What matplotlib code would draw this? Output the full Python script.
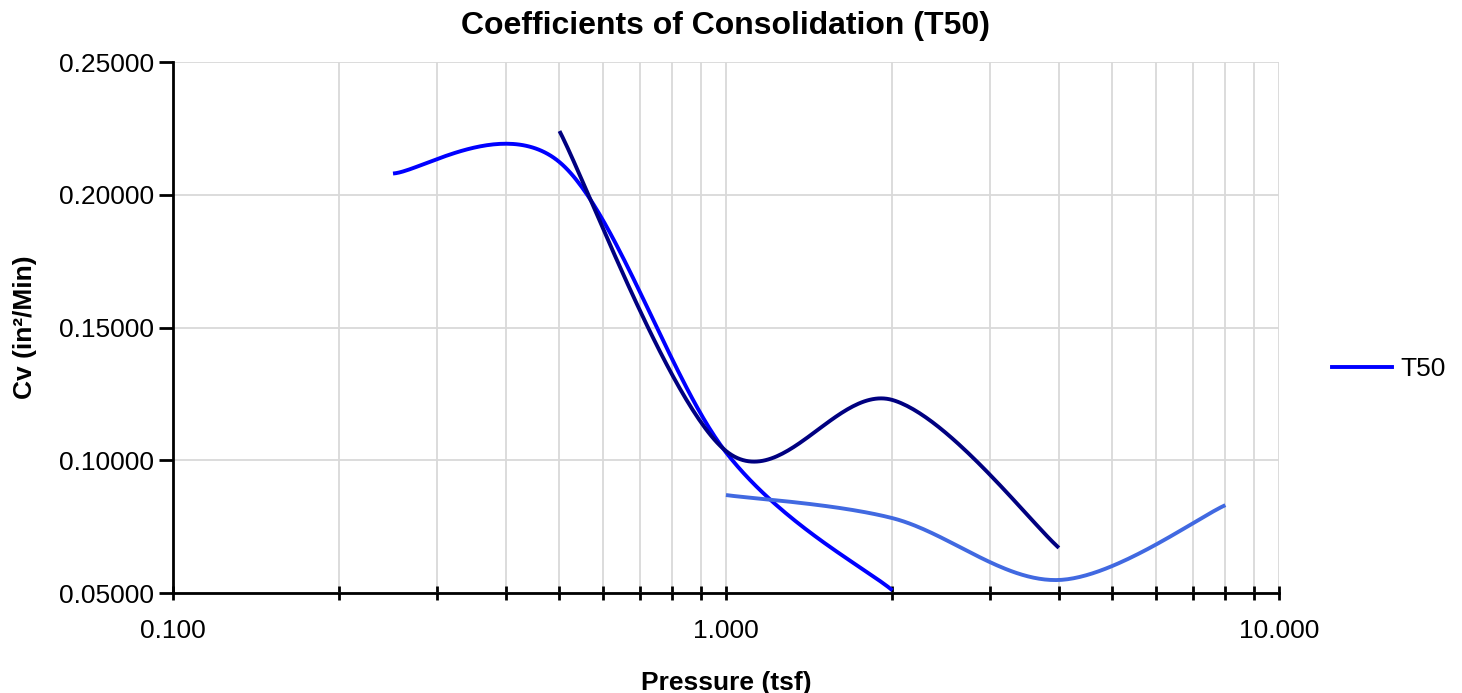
import numpy as np
import matplotlib.pyplot as plt
from matplotlib.ticker import FixedLocator, LogLocator, NullFormatter, FormatStrFormatter
from matplotlib.lines import Line2D

plt.rcParams['font.family'] = ['Liberation Sans', 'DejaVu Sans']

# data (pressure in tsf, Cv in in^2/min)
p_t50 = [0.25, 0.5, 1.0, 2.0]
cv_t50 = [0.208, 0.2123, 0.103, 0.051]

p_second = [0.5, 1.0, 2.0, 4.0]
cv_second = [0.224, 0.1035, 0.1227, 0.067]

p_third = [1.0, 2.0, 4.0, 8.0]
cv_third = [0.0869, 0.0782, 0.0549, 0.0831]

colors = ['#0000FF', '#000080', '#4169E1']


def smooth(xs, ys, sx=553.0, sy=2655.0, n=60):
    # Excel-like smoothed line: bezier segments with catmull-rom handles
    u = np.log10(xs) * sx
    v = np.array(ys) * sy
    pts = np.column_stack([u, v])
    out = []
    for i in range(len(pts) - 1):
        p0 = pts[max(i - 1, 0)]
        p1 = pts[i]
        p2 = pts[i + 1]
        p3 = pts[min(i + 2, len(pts) - 1)]
        c1 = p1 + (p2 - p0) / 6.0
        c2 = p2 - (p3 - p1) / 6.0
        t = np.linspace(0, 1, n)[:, None]
        seg = ((1 - t) ** 3 * p1 + 3 * (1 - t) ** 2 * t * c1
               + 3 * (1 - t) * t ** 2 * c2 + t ** 3 * p2)
        out.append(seg if i == 0 else seg[1:])
    seg = np.vstack(out)
    return 10 ** (seg[:, 0] / sx), seg[:, 1] / sy


fig = plt.figure(figsize=(14.62, 6.93), dpi=100)
ax = fig.add_axes([0.1183, 0.1443, 0.7565, 0.7662])

for xs, ys, c in [(p_t50, cv_t50, colors[0]), (p_second, cv_second, colors[1]),
                  (p_third, cv_third, colors[2])]:
    sx, sy = smooth(xs, ys)
    ax.plot(sx, sy, color=c, lw=2.8, solid_capstyle='butt', zorder=3)

ax.set_xscale('log')
ax.set_xlim(0.1, 10)
ax.set_ylim(0.05, 0.25)
ax.yaxis.set_major_locator(FixedLocator([0.05, 0.10, 0.15, 0.20, 0.25]))
ax.yaxis.set_major_formatter(FormatStrFormatter('%.5f'))
ax.xaxis.set_major_locator(FixedLocator([0.1, 1.0, 10.0]))
ax.xaxis.set_major_formatter(FormatStrFormatter('%.3f'))
ax.xaxis.set_minor_locator(LogLocator(base=10, subs=np.arange(2, 10)))
ax.xaxis.set_minor_formatter(NullFormatter())

ax.grid(True, which='both', axis='x', color='#D9D9D9', lw=1.3, zorder=0)
ax.grid(True, which='major', axis='y', color='#D9D9D9', lw=1.3, zorder=0)
for s in ['top', 'right']:
    ax.spines[s].set_visible(False)
for s in ['left', 'bottom']:
    ax.spines[s].set_linewidth(2)
ax.tick_params(axis='x', which='both', direction='inout', length=10, width=2,
               labelsize=19, pad=14)
ax.tick_params(axis='y', which='major', direction='out', length=10, width=2,
               labelsize=19)

ax.set_title('Coefficients of Consolidation (T50)', fontsize=23, fontweight='bold', pad=20)
ax.set_xlabel('Pressure (tsf)', fontsize=19, fontweight='bold', labelpad=20)
ax.set_ylabel('Cv (in²/Min)', fontsize=19, fontweight='bold', labelpad=16)

handle = Line2D([], [], color=colors[0], lw=2.8)
fig.legend([handle], ['T50'], loc='center left', bbox_to_anchor=(0.895, 0.467),
           frameon=False, fontsize=19, handlelength=2.27, handletextpad=0.3)

fig.savefig('out.png', dpi=100)
